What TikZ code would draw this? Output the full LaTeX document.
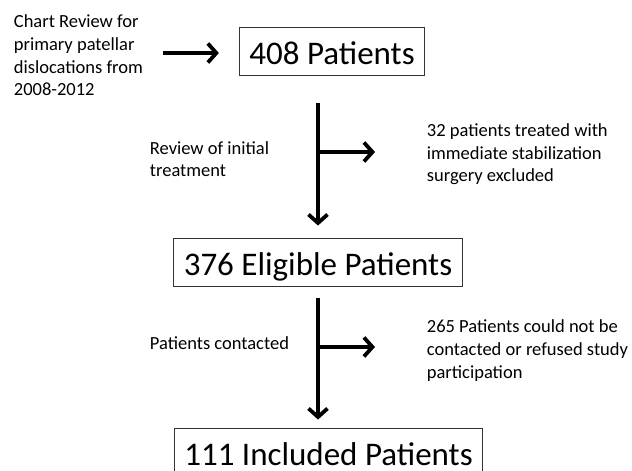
\documentclass[tikz,border=0pt]{standalone}
\usepackage{fontspec}
\setmainfont{Carlito}
\usepackage{tikz}
\usetikzlibrary{positioning, arrows.meta}

\begin{document}
\begin{tikzpicture}[x=1pt,y=-1pt,->,>={Straight Barb[length=8.5pt,width=19pt]},line width=3.8pt,
    box/.style={draw=black!80,line width=0.9pt,inner xsep=10pt,minimum height=48pt,
        text height=26pt,text depth=0pt,font=\fontsize{33}{40}\selectfont},
    note/.style={align=left,inner sep=0pt,anchor=west,font=\fontsize{18.5}{22.6}\selectfont}]
    \useasboundingbox (0,0) rectangle (632,471);
    \clip (0,0) rectangle (632,471);

    \node[box] (total) at (332,51) {408 Patients};
    \node[box] (eligible) [below of=total, node distance=211pt, xshift=-14pt] {376 Eligible Patients};
    \node[box] (included) [below of=eligible, node distance=190pt, xshift=10.5pt] {111 Included Patients};

    \node[note] (chart) at (12,55.5) {Chart Review for\\primary patellar\\dislocations from\\2008-2012};
    \node[note] (review) at (148,159) {Review of initial\\treatment};
    \node[note] (excl) at (425,154.5) {32 patients treated with\\immediate stabilization\\surgery excluded};
    \node[note] (contact) at (148,343) {Patients contacted};
    \node[note] (lost) at (425,350.5) {265 Patients could not be\\contacted or refused study\\participation};

    \coordinate (src) at (163,53);
    \coordinate (top1) at (318,103);
    \coordinate (fork1) at (318,152);
    \coordinate (top2) at (318,298);
    \coordinate (fork2) at (318,347);

    \path (src) edge[shorten >=20pt] (src -| total.west)
          (top1) edge[shorten >=12pt] (eligible.north)
          (fork1) edge[shorten >=50pt] (fork1 -| excl.west)
          (top2) edge[shorten >=8pt] (top2 |- included.north)
          (fork2) edge[shorten >=50pt] (fork2 -| lost.west);
\end{tikzpicture}
\end{document}
